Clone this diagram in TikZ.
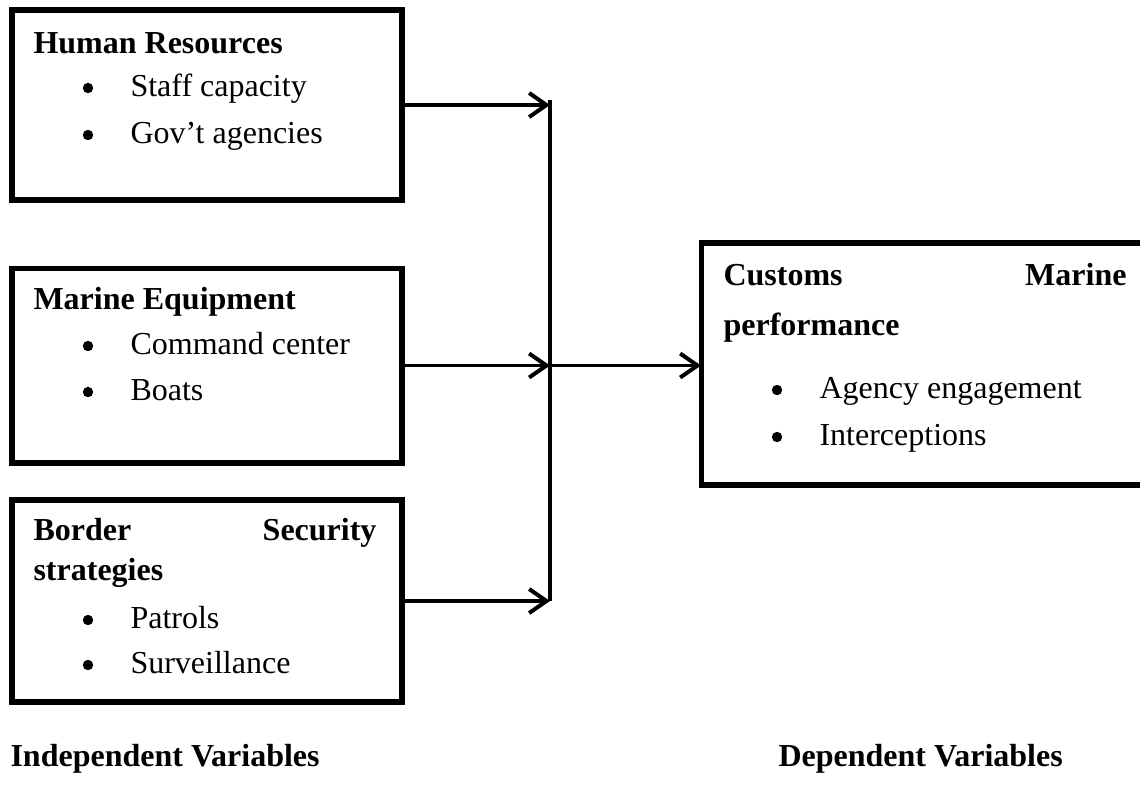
\documentclass[tikz,border=0pt]{standalone}
\usepackage{fontspec}
\setmainfont{Liberation Serif}
\usetikzlibrary{calc,arrows.meta}

\begin{document}
\begin{tikzpicture}[x=0.375pt,y=-0.375pt,
    box/.style={rectangle,draw=black,line width=1.9pt,inner sep=0pt,outer sep=0pt},
    txt/.style={anchor=base west,inner sep=0pt,font=\fontsize{12}{14}\selectfont},
    dot/.style={circle,fill=black,inner sep=0pt,minimum size=3.9pt},
    link/.style={line width=1.3pt},
    >={Straight Barb[length=6.5pt,width=9pt,line width=1.5pt]}]
  \useasboundingbox (0,0) rectangle (1140,791);
  % independent variables
  \node (hr) [box,minimum width=146.25pt,minimum height=71.25pt] at (207,105){};
  \node (me) [box,minimum width=146.25pt,minimum height=73.1pt] at (207,365.5){};
  \node (bs) [box,minimum width=146.25pt,minimum height=75.75pt] at (207,601){};
  % dependent variable
  \node (cm) [box,minimum width=172.1pt,minimum height=90.75pt] at (930.5,364){};

  \node (hr-h) [txt] at ($(hr.north west)+(21,43)$) {\textbf{Human Resources}};
  \node (me-h) [txt] at ($(me.north west)+(21,41)$) {\textbf{Marine Equipment}};
  \node (bs-h1) [txt] at ($(bs.north west)+(21,40)$) {\textbf{Border}};
  \node (bs-h2) [txt,anchor=base east] at ($(bs.north west)+(365,40)$) {\textbf{Security}};
  \node (bs-h3) [txt] at ($(bs.north west)+(21,80)$) {\textbf{strategies}};
  \node (cm-h1) [txt] at ($(cm.north west)+(22,42)$) {\textbf{Customs}};
  \node (cm-h2) [txt,anchor=base east] at ($(cm.north west)+(426,42)$) {\textbf{Marine}};
  \node (cm-h3) [txt] at ($(cm.north west)+(22,92)$) {\textbf{performance}};

  \foreach \b/\i/\y/\t in {hr/1/86/Staff capacity, hr/2/133/Gov't agencies,
      me/1/86/Command center, me/2/132/Boats, bs/1/128/Patrols, bs/2/173/Surveillance,
      cm/1/155/Agency engagement, cm/2/202/Interceptions}{
    \node (\b-d\i) [dot] at ($(\b.north west)+(76,\y-8)$) {};
    \node (\b-t\i) [txt] at ($(\b.north west)+(118,\y)$) {\t};
  }

  \coordinate (jx) at (550,0);
  \draw [link,->] (hr.east) -- (hr.east -| jx) coordinate (j1);
  \draw [link,->] (me.east) -- (me.east -| jx) coordinate (j2);
  \draw [link,->] (bs.east) -- (bs.east -| jx) coordinate (j3);
  \draw [link] ($(j1)+(0,-5)$) -- (j3);
  \draw [link,->] (j2) -- (j2 -| cm.west);

  \node (iv) [txt] at (10,766) {\textbf{Independent Variables}};
  \node (dv) [txt] at (778,766) {\textbf{Dependent Variables}};
\end{tikzpicture}
\end{document}
